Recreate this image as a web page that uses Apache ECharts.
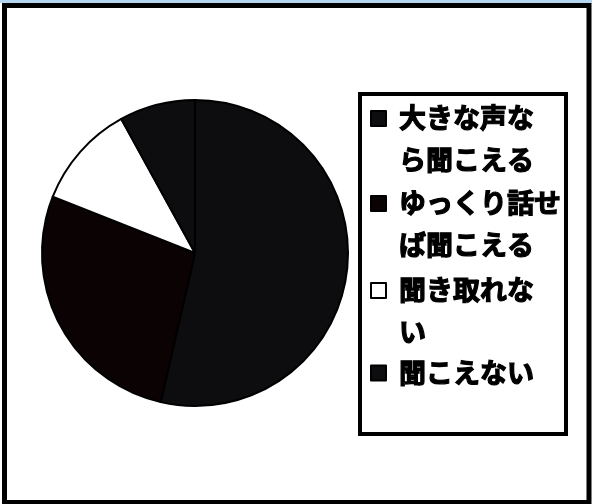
<!DOCTYPE html>
<html>
<head>
<meta charset="utf-8">
<script src="https://cdn.jsdelivr.net/npm/echarts@6/dist/echarts.min.js"></script>
<style>
html,body{margin:0;padding:0;background:#fff;}
#c{width:592px;height:504px;}
</style>
</head>
<body>
<div id="c"></div>
<script>
var categories = ['大きな声なら聞こえる', 'ゆっくり話せば聞こえる', '聞き取れない', '聞こえない'];
var legendLines = ['大きな声な\nら聞こえる', 'ゆっくり話せ\nば聞こえる', '聞き取れな\nい', '聞こえない'];
var values = [53.6, 27.4, 11.0, 8.0];
var colors = ['#0d0d10', '#0a0203', '#ffffff', '#0d0d10'];
var legendTops = [97, 182, 269, 344];

var chart = echarts.init(document.getElementById('c'), null, {renderer: 'canvas'});

var pieData = categories.map(function (n, i) {
  return { name: n, value: values[i], itemStyle: { color: colors[i] } };
});

// icon box is 15 x 56; square sits at the top for two-line entries, centered for one-line entries
var iconTop = 'path://M0,0L15,0L15,15L0,15Z M0,56L0.01,56';
var iconMid = 'path://M0,20.5L15,20.5L15,35.5L0,35.5Z M0,0L0.01,0 M0,56L0.01,56';

var legends = categories.map(function (n, i) {
  var twoLine = legendLines[i].indexOf('\n') >= 0;
  return {
    show: true,
    orient: 'vertical',
    left: 370,
    top: legendTops[i],
    padding: 0,
    itemGap: 0,
    itemWidth: 15,
    itemHeight: 56,
    selectedMode: false,
    data: [n],
    icon: twoLine ? iconTop : iconMid,
    itemStyle: { borderColor: '#000', borderWidth: 2 },
    formatter: function (name) { return legendLines[categories.indexOf(name)]; },
    textStyle: {
      fontFamily: 'Noto Sans CJK JP',
      fontWeight: 'bold',
      fontSize: 27,
      lineHeight: 42,
      color: '#000',
      textBorderColor: '#000',
      textBorderWidth: 1.2,
      padding: [0, 0, 0, 8]
    }
  };
});

chart.setOption({
  animation: false,
  backgroundColor: '#fff',
  graphic: [
    { type: 'rect', shape: { x: 0, y: 0, width: 592, height: 3 }, style: { fill: '#b4d6ee' }, silent: true },
    { type: 'rect', shape: { x: 4.5, y: 5.5, width: 584.5, height: 497 }, style: { fill: 'none', stroke: '#000', lineWidth: 5 }, silent: true },
    { type: 'rect', shape: { x: 360, y: 94, width: 206, height: 340 }, style: { fill: 'none', stroke: '#000', lineWidth: 4 }, silent: true }
  ],
  legend: legends,
  series: [{
    type: 'pie',
    center: [195, 253],
    radius: 153,
    startAngle: 90,
    clockwise: true,
    label: { show: false },
    labelLine: { show: false },
    emphasis: { disabled: true },
    itemStyle: { borderColor: '#000', borderWidth: 2 },
    data: pieData
  }]
});
</script>
</body>
</html>
